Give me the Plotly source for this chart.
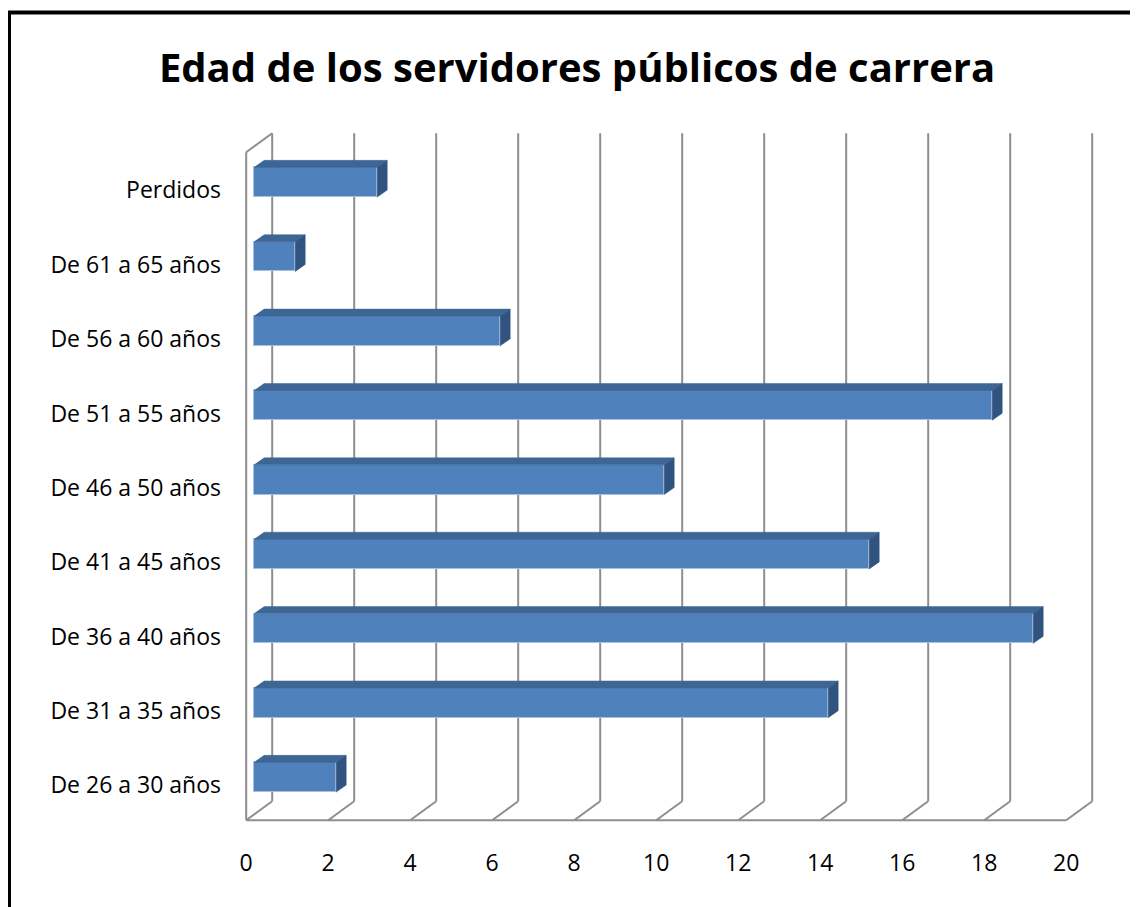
import plotly.graph_objects as go

# ---- data ----
categories = ["De 26 a 30 años", "De 31 a 35 años", "De 36 a 40 años", "De 41 a 45 años",
              "De 46 a 50 años", "De 51 a 55 años", "De 56 a 60 años", "De 61 a 65 años",
              "Perdidos"]
values = [2, 14, 19, 15, 10, 18, 6, 1, 3]
x_ticks = [0, 2, 4, 6, 8, 10, 12, 14, 16, 18, 20]
title_text = "Edad de los servidores públicos de carrera"

# ---- geometry / style (axis units) ----
W, H = 1138, 907
OFF = 8  # page body margin offset
ML, MT = 238 - OFF, 119 - OFF
PW, PH = 861, 714
MR = W - ML - PW
MB = H - MT - PH
XR = [-0.2, 20.8]
YR = [-0.75, 8.85]
BAR_BASE = 0.195      # bar front face offset from floor front
HALF = 0.2            # half height of bar face
BDX, BDY = 0.244, 0.094   # bar depth
WDX, WDY = 0.634, 0.255   # wall depth
FLOOR = -0.578
WALL_TOP_FRONT = 8.403
WALL_TOP_BACK = 8.659
GRID = "#8E8E8E"
FRONT = "#4F81BD"
TOP = "#3D6695"
SIDE = "#30537F"
LABEL_SHIFT = 0.11

pos = list(range(len(categories)))

fig = go.Figure()

# front faces (real bars)
fig.add_trace(go.Bar(
    y=pos, x=values, base=[BAR_BASE] * len(values), orientation="h",
    width=2 * HALF, marker=dict(color=FRONT, line=dict(color="#A8C0DF", width=1)),
    hoverinfo="skip", showlegend=False))

# top faces and side faces from data
tx, ty, sx, sy = [], [], [], []
for p, v in zip(pos, values):
    x0, x1 = BAR_BASE, BAR_BASE + v
    tx += [x0, x1, x1 + BDX, x0 + BDX, x0, None]
    ty += [p + HALF, p + HALF, p + HALF + BDY, p + HALF + BDY, p + HALF, None]
    sx += [x1, x1, x1 + BDX, x1 + BDX, x1, None]
    sy += [p - HALF, p + HALF, p + HALF + BDY, p - HALF + BDY, p - HALF, None]
fig.add_trace(go.Scatter(x=tx, y=ty, fill="toself", fillcolor=TOP, mode="lines",
                         line=dict(color=TOP, width=0.5), hoverinfo="skip", showlegend=False))
fig.add_trace(go.Scatter(x=sx, y=sy, fill="toself", fillcolor=SIDE, mode="lines",
                         line=dict(color=SIDE, width=0.5), hoverinfo="skip", showlegend=False))

# gridlines / walls as shapes below traces
shapes = []
gl = dict(color=GRID, width=2)
for t in x_ticks:
    shapes.append(dict(type="line", xref="x", yref="y", layer="below",
                       x0=t + WDX, x1=t + WDX, y0=FLOOR + WDY, y1=WALL_TOP_BACK, line=gl))
    shapes.append(dict(type="line", xref="x", yref="y", layer="below",
                       x0=t, x1=t + WDX, y0=FLOOR, y1=FLOOR + WDY, line=gl))
shapes.append(dict(type="line", xref="x", yref="y", layer="below",
                   x0=x_ticks[0], x1=x_ticks[-1], y0=FLOOR, y1=FLOOR, line=gl))
shapes.append(dict(type="line", xref="x", yref="y", layer="below",
                   x0=x_ticks[0], x1=x_ticks[0], y0=FLOOR, y1=WALL_TOP_FRONT, line=gl))
shapes.append(dict(type="line", xref="x", yref="y", layer="below",
                   x0=x_ticks[0], x1=x_ticks[0] + WDX, y0=WALL_TOP_FRONT, y1=WALL_TOP_BACK, line=gl))

# outer black frame (paper coordinates derived from window pixels)
def px(x): return (x - OFF - ML) / PW
def py(y): return (H - MB - (y - OFF)) / PH
shapes.append(dict(type="rect", xref="paper", yref="paper", layer="above",
                   x0=px(9), x1=px(W + 40), y0=py(H + 40), y1=py(12.5),
                   line=dict(color="black", width=4), fillcolor="rgba(0,0,0,0)"))

FONT = "Open Sans"
fig.update_layout(
    width=W, height=H,
    margin=dict(l=ML, r=MR, t=MT, b=MB),
    paper_bgcolor="white", plot_bgcolor="white",
    shapes=shapes,
    title=dict(text="<b>" + title_text + "</b>", x=(577 - OFF) / W, xanchor="center",
               y=1 - (68 - OFF) / H, yanchor="middle", xref="container", yref="container",
               font=dict(family=FONT, size=40, color="black")),
    xaxis=dict(range=XR, tickvals=x_ticks, ticktext=[str(t) for t in x_ticks],
               showgrid=False, zeroline=False, showline=False, ticks="",
               ticklabelstandoff=14, tickfont=dict(family=FONT, size=23, color="black"),
               fixedrange=True),
    yaxis=dict(range=YR, tickvals=[p - LABEL_SHIFT for p in pos], ticktext=categories,
               showgrid=False, zeroline=False, showline=False, ticks="",
               ticklabelstandoff=16, tickfont=dict(family=FONT, size=23, color="black"),
               fixedrange=True),
    bargap=0,
)

fig.write_html("out.html")
